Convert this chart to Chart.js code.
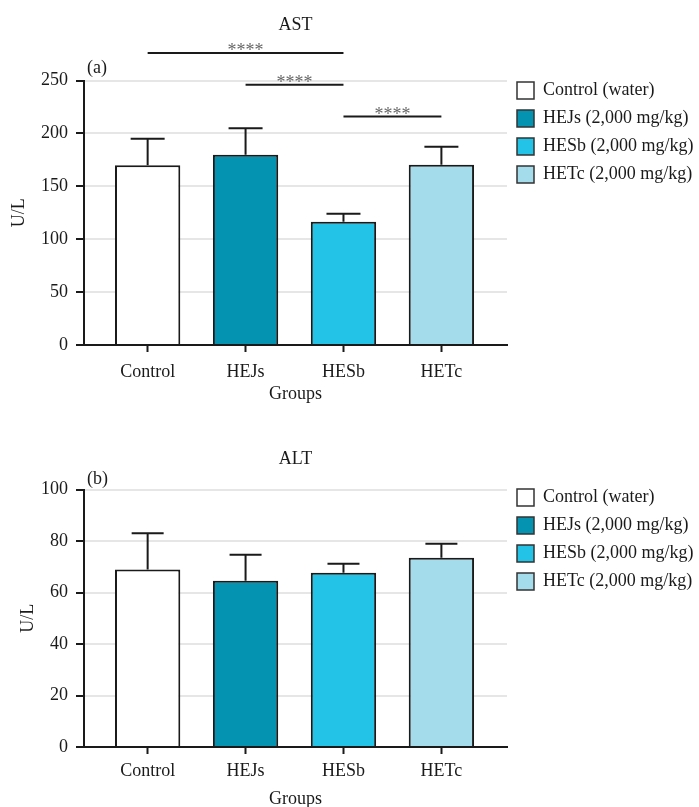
<!DOCTYPE html>
<html>
<head>
<meta charset="utf-8">
<script src="https://cdn.jsdelivr.net/npm/chart.js@4.4.1/dist/chart.umd.min.js"></script>
<style>
html, body { margin: 0; padding: 0; background: #fff; overflow: hidden; }
#wrap { position: relative; width: 699px; height: 807px; }
.panel { position: absolute; left: 0; width: 699px; height: 405px; }
#astBox { top: 0; }
#altBox { top: 405px; }
</style>
</head>
<body>
<div id="wrap">
  <div class="panel" id="astBox"><canvas id="ast"></canvas></div>
  <div class="panel" id="altBox"><canvas id="alt"></canvas></div>
</div>
<script>
// groups on the x axis and legend names
var groups = ['Control', 'HEJs', 'HESb', 'HETc'];
var legendNames = ['Control (water)', 'HEJs (2,000 mg/kg)', 'HESb (2,000 mg/kg)', 'HETc (2,000 mg/kg)'];

// AST (U/L): mean and top of the error bar
var astMean = [170, 180, 116.5, 170.5];
var astUpper = [195, 205, 124, 187.5];
var astTicks = [0, 50, 100, 150, 200, 250];

// ALT (U/L)
var altMean = [69, 64.6, 67.7, 73.5];
var altUpper = [83, 74.7, 71.2, 79];
var altTicks = [0, 20, 40, 60, 80, 100];

// significance brackets for AST: from group, to group, height (U/L)
var astSig = [[0, 2, 276], [1, 2, 246], [2, 3, 216]];
var sigLabel = '****';

var barColors = ['#ffffff', '#0494b1', '#22c3e6', '#a5dcec'];
var ink = '#1a1a1a';
var serif = "'Liberation Serif', 'Times New Roman', serif";

Chart.defaults.font.family = serif;
Chart.defaults.font.size = 18;
Chart.defaults.color = ink;
Chart.defaults.animation = false;

function errorBarPlugin(upper, cap) {
    return {
        id: 'errorBars',
        afterDatasetsDraw: function(chart) {
            var ctx = chart.ctx;
            var yScale = chart.scales.y;
            ctx.save();
            ctx.strokeStyle = ink;
            ctx.lineWidth = 2;
            chart.getDatasetMeta(0).data.forEach(function(bar, i) {
                var top = yScale.getPixelForValue(upper[i]);
                ctx.beginPath();
                ctx.moveTo(bar.x, bar.y);
                ctx.lineTo(bar.x, top);
                ctx.moveTo(bar.x - cap, top);
                ctx.lineTo(bar.x + cap, top);
                ctx.stroke();
            });
            ctx.restore();
        }
    };
}

function sigPlugin(pairs) {
    return {
        id: 'sigBars',
        afterDraw: function(chart) {
            var ctx = chart.ctx, x = chart.scales.x, y = chart.scales.y;
            ctx.save();
            pairs.forEach(function(p) {
                var x1 = x.getPixelForValue(p[0] + 1);
                var x2 = x.getPixelForValue(p[1] + 1);
                var yy = y.getPixelForValue(p[2]);
                ctx.strokeStyle = ink;
                ctx.lineWidth = 2;
                ctx.beginPath();
                ctx.moveTo(x1, yy);
                ctx.lineTo(x2, yy);
                ctx.stroke();
                ctx.fillStyle = '#666';
                ctx.font = '18px ' + serif;
                ctx.textAlign = 'center';
                ctx.textBaseline = 'alphabetic';
                ctx.fillText(sigLabel, (x1 + x2) / 2, yy + 3);
            });
            ctx.restore();
        }
    };
}

function panelLabel(text, dy) {
    return {
        id: 'panelLabel',
        afterDraw: function(chart) {
            var ctx = chart.ctx, area = chart.chartArea;
            ctx.save();
            ctx.fillStyle = ink;
            ctx.font = '18px ' + serif;
            ctx.textAlign = 'left';
            ctx.textBaseline = 'middle';
            ctx.fillText(text, area.left + 3, area.top - dy);
            ctx.restore();
        }
    };
}

function makeChart(id, cfg) {
    var data = groups.map(function(g, i) { return { x: i + 1, y: cfg.mean[i] }; });
    return new Chart(document.getElementById(id), {
        type: 'bar',
        data: {
            datasets: [{
                data: data,
                backgroundColor: barColors,
                borderColor: ink,
                borderWidth: 2,
                categoryPercentage: 1,
                barPercentage: 0.667
            }]
        },
        options: {
            responsive: true,
            maintainAspectRatio: false,
            layout: { padding: 0 },
            scales: {
                x: {
                    type: 'linear',
                    min: 0.35,
                    max: 4.67,
                    offset: false,
                    afterBuildTicks: function(s) {
                        s.ticks = groups.map(function(g, i) { return { value: i + 1 }; });
                    },
                    afterFit: function(s) { s.height = cfg.xHeight; },
                    ticks: {
                        autoSkip: false,
                        maxRotation: 0,
                        padding: cfg.xTickPad,
                        color: ink,
                        callback: function(v) { return groups[v - 1]; }
                    },
                    grid: { offset: false, drawOnChartArea: false, tickColor: ink, tickLength: 7, tickWidth: 2 },
                    border: { color: ink, width: 2 },
                    title: { display: true, text: 'Groups', color: ink, padding: { top: 0, bottom: 0 } }
                },
                y: {
                    min: 0,
                    max: cfg.ticks[cfg.ticks.length - 1],
                    afterBuildTicks: function(s) {
                        s.ticks = cfg.ticks.map(function(v) { return { value: v }; });
                    },
                    afterFit: function(s) { s.width = 84; },
                    ticks: { padding: 8, color: ink },
                    grid: { color: '#e6e6e6', lineWidth: 2, tickColor: ink, tickLength: 8, tickWidth: 2 },
                    border: { color: ink, width: 2 },
                    title: { display: true, text: 'U/L', color: ink, padding: { top: cfg.yTitlePad, bottom: 0 } }
                }
            },
            plugins: {
                tooltip: { enabled: false },
                title: {
                    display: true,
                    text: cfg.title,
                    fullSize: false,
                    color: ink,
                    font: { size: 18, weight: 'normal' },
                    padding: { top: cfg.titleTop, bottom: cfg.titleBottom }
                },
                legend: {
                    position: 'right',
                    align: 'start',
                    maxWidth: 192,
                    onClick: null,
                    title: { display: true, text: '', font: { size: 10, lineHeight: 1 }, padding: { top: 0, bottom: cfg.legendOffset } },
                    labels: {
                        boxWidth: 17,
                        boxHeight: 17,
                        padding: 10,
                        color: ink,
                        font: { size: 18 },
                        generateLabels: function() {
                            return legendNames.map(function(n, i) {
                                return { text: n, fillStyle: barColors[i], strokeStyle: '#333', lineWidth: 1.5, hidden: false, index: i };
                            });
                        }
                    }
                }
            }
        },
        plugins: cfg.plugins
    });
}

var ast = makeChart('ast', {
    mean: astMean, ticks: astTicks, title: 'AST',
    titleTop: 14, titleBottom: 45, legendOffset: 61.5,
    xHeight: 60, xTickPad: 9, yTitlePad: 8,
    plugins: [errorBarPlugin(astUpper, 17), sigPlugin(astSig), panelLabel('(a)', 12)]
});

var alt = makeChart('alt', {
    mean: altMean, ticks: altTicks, title: 'ALT',
    titleTop: 43, titleBottom: 20, legendOffset: 63.5,
    xHeight: 63, xTickPad: 6, yTitlePad: 17,
    plugins: [errorBarPlugin(altUpper, 16), panelLabel('(b)', 10)]
});
</script>
</body>
</html>
